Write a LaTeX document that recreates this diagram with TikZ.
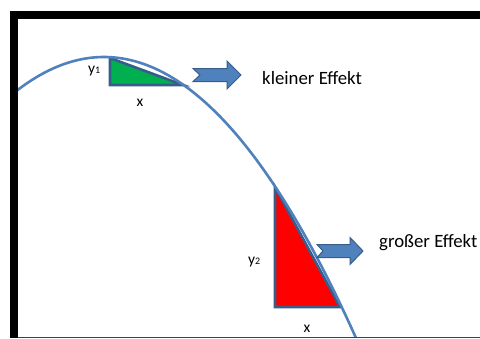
\documentclass[tikz,border=0pt]{standalone}
\usepackage{fontspec}
\setmainfont{Carlito}
\definecolor{curveblue}{RGB}{79,129,189}
\definecolor{edgeblue}{RGB}{56,93,138}
\definecolor{effgreen}{RGB}{0,176,80}
\tikzset{
  lbl/.style={inner sep=0pt, anchor=base west, font=\fontsize{15.5}{16}\selectfont},
  efftext/.style={inner sep=0pt, anchor=base west, font=\fontsize{18.8}{19}\selectfont},
  tri/.style={draw=edgeblue, line width=2.6pt, line join=miter},
  blockarrow/.style={fill=curveblue, draw=edgeblue, line width=1pt, line join=miter},
  curve/.style={draw=curveblue, line width=2.6pt}
}
\newcommand{\smallone}[1]{{\fontsize{10}{10}\selectfont #1}}
\begin{document}
\begin{tikzpicture}[x=1pt,y=-1pt]
\useasboundingbox (0,0) rectangle (480,338);
\fill[white] (0,0) rectangle (480,338);
% triangles
\coordinate (g1) at (110,58);
\coordinate (g2) at (110,85);
\coordinate (g3) at (183,85);
\filldraw[tri, fill=effgreen] (g1) -- (g2) -- (g3) -- cycle;
\coordinate (r1) at (275,187);
\coordinate (r2) at (275,307);
\coordinate (r3) at (340,307);
\filldraw[tri, fill=red] (r1) -- (r2) -- (r3) -- cycle;
% curve
\begin{scope}
\clip (17,19) rectangle (480,337);
\draw[curve, domain=14:360, samples=120, smooth] plot (\x, {57+0.00442*(\x-104)*(\x-104)});
\end{scope}
% block arrows
\coordinate (a1) at (193,75);
\filldraw[blockarrow] (a1) ++(0,-6.5) -- ++(34,0) -- ++(0,-7.5) -- ++(14,14) -- ++(-14,14) -- ++(0,-7.5) -- ++(-34,0) -- ++(7,-6.5) -- cycle;
\coordinate (a2) at (317,251);
\filldraw[blockarrow] (a2) ++(0,-6.5) -- ++(33,0) -- ++(0,-7) -- ++(13,13.5) -- ++(-13,13.5) -- ++(0,-7) -- ++(-33,0) -- ++(6,-6.5) -- cycle;
% labels
\node[efftext] (t1) at (262,84) {kleiner Effekt};
\node[efftext] (t2) at (379,247) {großer Effekt};
\node[lbl] (y1) at (88,73) {y\smallone{1}};
\node[lbl] (x1) at (136.5,106.5) {x};
\node[lbl] (y2) at (248,264) {y\smallone{2}};
\node[lbl] (x2) at (303.5,332) {x};
% frame
\fill[black] (10,11) rectangle (17.5,338);
\fill[black] (10,11) rectangle (480,19);
\draw[black!75, line width=1pt] (17.5,337.5) -- (480,337.5);
\end{tikzpicture}
\end{document}
